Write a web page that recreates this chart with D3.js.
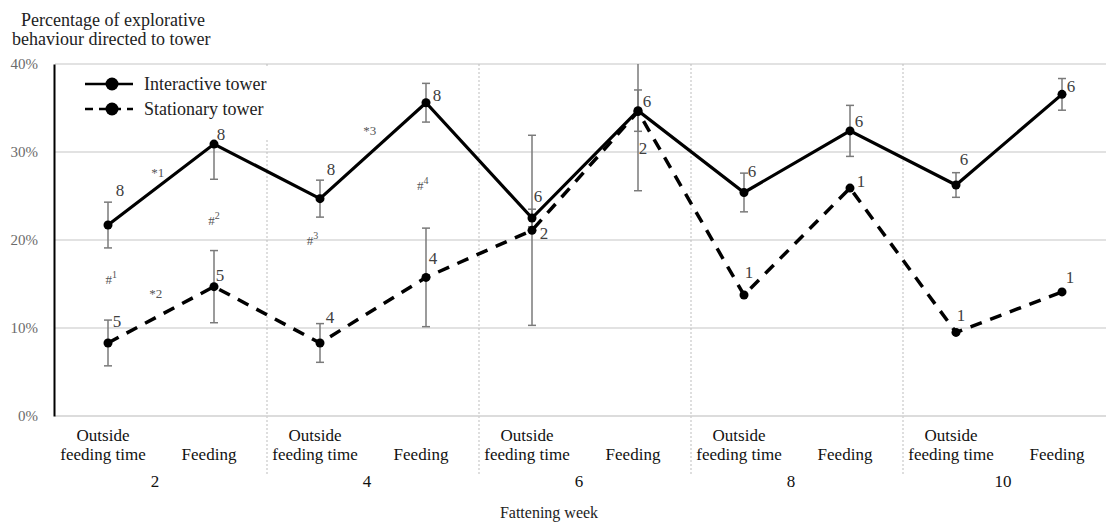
<!DOCTYPE html>
<html>
<head>
<meta charset="utf-8">
<script src="https://cdn.jsdelivr.net/npm/d3@7"></script>
<style>
  html, body { margin: 0; padding: 0; background: #fff; }
  svg { display: block; font-family: "Liberation Serif", "DejaVu Serif", serif; }
</style>
</head>
<body>
<svg id="chart" width="1106" height="523"></svg>
<script>
// ---------- data ----------
const weeks = ["2", "4", "6", "8", "10"];
const periods = ["Outside feeding time", "Feeding"];
const categories = weeks.flatMap(w => periods.map(p => ({week: w, period: p})));

const interactive      = [21.7, 30.9, 24.7, 35.6, 22.5, 34.7, 25.4, 32.4, 26.25, 36.55];
const interactiveErrUp = [2.6, 0, 2.1, 2.2, 1.0, 2.35, 2.2, 2.9, 1.4, 1.8];
const interactiveErrDn = [2.6, 4.0, 2.1, 2.2, 1.0, 2.35, 2.2, 2.9, 1.4, 1.8];
const interactiveN     = [8, 8, 8, 8, 6, 6, 6, 6, 6, 6];

const stationary       = [8.3, 14.7, 8.3, 15.75, 21.1, 34.6, 13.75, 25.9, 9.5, 14.1];
const stationaryErrUp  = [2.6, 4.1, 2.2, 5.6, 10.8, 9.0, 0, 0, 0, 0];
const stationaryErrDn  = [2.6, 4.1, 2.2, 5.6, 10.8, 9.0, 0, 0, 0, 0];
const stationaryN      = [5, 5, 4, 4, 2, 2, 1, 1, 1, 1];

const yTicks = [0, 10, 20, 30, 40];

// significance annotations: position in category-index units and percent
const annotations = [
  {sym: "*", sup: "1", at: 0.47, val: 27.7, raise: false},
  {sym: "*", sup: "2", at: 0.45, val: 14.0, raise: false},
  {sym: "#", sup: "1", at: 0.03, val: 15.6, raise: true},
  {sym: "#", sup: "2", at: 1.00, val: 22.3, raise: true},
  {sym: "*", sup: "3", at: 2.47, val: 32.5, raise: false},
  {sym: "#", sup: "3", at: 1.93, val: 20.0, raise: true},
  {sym: "#", sup: "4", at: 2.97, val: 26.25, raise: true}
];

// ---------- layout (label nudges in px, relative to point) ----------
const interactiveLabelNudge = [[12,-35],[7,-10],[11,-29],[11,-7],[6,-22],[9,-9],[8,-21],[9,-9],[8,-26],[9,-8]];
const stationaryLabelNudge  = [[9,-21],[6,-11],[10,-25],[7,-19],[12,3],[5,37],[5,-23],[11,-7],[5,-17],[8,-14]];

const svg = d3.select("#chart");
const plotLeft = 55, plotRight = 1115, plotTop = 64, plotBottom = 416;

const x = d3.scalePoint().domain(d3.range(categories.length)).range([plotLeft, plotRight]).padding(0.5);
const step = x.step();
const xi = t => x(0) + t * step;
const y = d3.scaleLinear().domain([0, 40]).range([plotBottom, plotTop]);

// gridlines
svg.append("g").selectAll("line").data(yTicks.filter(t => t > 0)).join("line")
  .attr("x1", plotLeft).attr("x2", 1106)
  .attr("y1", d => y(d)).attr("y2", d => y(d))
  .attr("stroke", "#d9d9d9").attr("stroke-width", 1.3);

// group separators (dotted)
svg.append("g").selectAll("line").data(d3.range(1, weeks.length)).join("line")
  .attr("x1", g => x(g * 2) - step / 2).attr("x2", g => x(g * 2) - step / 2)
  .attr("y1", plotTop).attr("y2", 474)
  .attr("stroke", "#bdbdbd").attr("stroke-width", 1).attr("stroke-dasharray", "2,2");

// legend background (drawn beneath data so labels stay visible)
const lg = svg.append("g");
lg.append("rect").attr("x", 75).attr("y", 67).attr("width", 198).attr("height", 73).attr("fill", "#fff");

// x baseline
svg.append("line").attr("x1", plotLeft).attr("x2", 1106).attr("y1", plotBottom).attr("y2", plotBottom)
  .attr("stroke", "#d0d0d0").attr("stroke-width", 1.5);

// y axis
const yAxis = d3.axisLeft(y).tickValues(yTicks).tickSize(0).tickPadding(16).tickFormat(d => d + "%");
const ya = svg.append("g").attr("transform", `translate(${plotLeft - 1},0)`).call(yAxis);
ya.select(".domain").attr("stroke", "#000").attr("stroke-width", 2);
ya.selectAll("text").attr("fill", "#6b6b6b").attr("font-size", 15)
  .attr("font-family", "Liberation Serif, serif");

// error bars
function errorBars(vals, up, dn, cls) {
  const g = svg.append("g").attr("class", cls);
  vals.forEach((v, i) => {
    const cx = x(i);
    const hi = Math.min(40, v + up[i]), lo = v - dn[i];
    if (up[i] === 0 && dn[i] === 0) return;
    g.append("line").attr("x1", cx).attr("x2", cx).attr("y1", y(hi)).attr("y2", y(lo))
      .attr("stroke", "#7a7a7a").attr("stroke-width", 1.5);
    if (up[i] > 0 && v + up[i] <= 40)
      g.append("line").attr("x1", cx - 4).attr("x2", cx + 4).attr("y1", y(hi)).attr("y2", y(hi))
        .attr("stroke", "#7a7a7a").attr("stroke-width", 1.5);
    if (dn[i] > 0)
      g.append("line").attr("x1", cx - 4).attr("x2", cx + 4).attr("y1", y(lo)).attr("y2", y(lo))
        .attr("stroke", "#7a7a7a").attr("stroke-width", 1.5);
  });
}
errorBars(stationary, stationaryErrUp, stationaryErrDn, "err-s");
errorBars(interactive, interactiveErrUp, interactiveErrDn, "err-i");

const line = d3.line().x((d, i) => x(i)).y(d => y(d));

// stationary (dashed)
svg.append("path").datum(stationary).attr("d", line).attr("fill", "none")
  .attr("stroke", "#000").attr("stroke-width", 3.5).attr("stroke-dasharray", "12,9");
svg.append("g").selectAll("circle").data(stationary).join("circle")
  .attr("cx", (d, i) => x(i)).attr("cy", d => y(d)).attr("r", 4.5).attr("fill", "#000");

// interactive (solid)
svg.append("path").datum(interactive).attr("d", line).attr("fill", "none")
  .attr("stroke", "#000").attr("stroke-width", 3.2).attr("stroke-linejoin", "miter");
svg.append("g").selectAll("circle").data(interactive).join("circle")
  .attr("cx", (d, i) => x(i)).attr("cy", d => y(d)).attr("r", 4.5).attr("fill", "#000");

// n labels
function nLabels(vals, ns, nudge) {
  svg.append("g").selectAll("text").data(vals).join("text")
    .attr("x", (d, i) => x(i) + nudge[i][0])
    .attr("y", (d, i) => y(d) + nudge[i][1])
    .attr("text-anchor", "middle").attr("dominant-baseline", "central")
    .attr("font-size", 17).attr("fill", "#404040")
    .text((d, i) => ns[i]);
}
nLabels(interactive, interactiveN, interactiveLabelNudge);
nLabels(stationary, stationaryN, stationaryLabelNudge);

// annotations
const ann = svg.append("g").selectAll("text").data(annotations).join("text")
  .attr("x", d => xi(d.at)).attr("y", d => y(d.val))
  .attr("text-anchor", "middle").attr("dominant-baseline", "central")
  .attr("font-size", 13).attr("fill", "#555");
ann.append("tspan").text(d => d.sym);
ann.append("tspan").attr("font-size", d => d.raise ? 10 : 13)
  .attr("dy", d => d.raise ? -5 : 0).text(d => d.sup);

// category labels
const cl = svg.append("g").attr("font-size", 17).attr("fill", "#111").attr("text-anchor", "middle");
categories.forEach((c, i) => {
  const cx = x(i) - 5;
  if (c.period === "Feeding") {
    cl.append("text").attr("x", cx).attr("y", 460).text("Feeding");
  } else {
    cl.append("text").attr("x", cx).attr("y", 441).text("Outside");
    cl.append("text").attr("x", cx).attr("y", 460).text("feeding time");
  }
});
weeks.forEach((w, g) => {
  cl.append("text").attr("x", (x(g * 2) + x(g * 2 + 1)) / 2 - 6).attr("y", 487).text(w);
});

// axis titles
svg.append("text").attr("x", 549).attr("y", 518).attr("text-anchor", "middle")
  .attr("font-size", 16).attr("fill", "#222").text("Fattening week");
const yt = svg.append("text").attr("font-size", 18).attr("fill", "#222");
yt.append("tspan").attr("x", 21).attr("y", 26).text("Percentage of explorative");
yt.append("tspan").attr("x", 12).attr("y", 45).text("behaviour directed to tower");

// legend entries
const legendItems = [
  {name: "Interactive tower", dash: null, yy: 84},
  {name: "Stationary tower", dash: "8,6", yy: 109}
];
const lgItems = svg.append("g");
legendItems.forEach(it => {
  lgItems.append("line").attr("x1", 85).attr("x2", 133).attr("y1", it.yy).attr("y2", it.yy)
    .attr("stroke", "#000").attr("stroke-width", 2.5).attr("stroke-dasharray", it.dash);
  lgItems.append("circle").attr("cx", 112).attr("cy", it.yy).attr("r", 6.5).attr("fill", "#000");
  lgItems.append("text").attr("x", 144).attr("y", it.yy).attr("dominant-baseline", "central")
    .attr("font-size", 18).attr("fill", "#222").text(it.name);
});
</script>
</body>
</html>
